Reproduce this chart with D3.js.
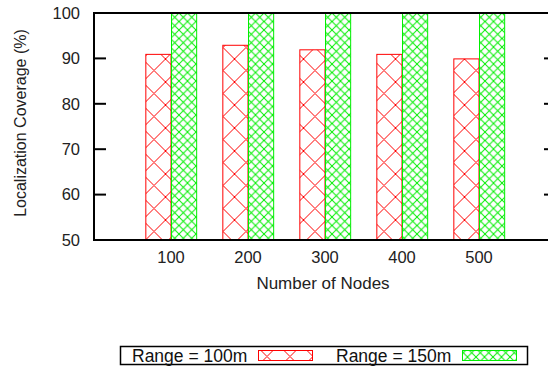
<!DOCTYPE html>
<html>
<head>
<meta charset="utf-8">
<script src="https://cdn.jsdelivr.net/npm/d3@7"></script>
<style>
  body { margin: 0; background: #fff; }
  svg { display: block; font-family: "Liberation Sans", Arial, sans-serif; }
</style>
</head>
<body>
<div id="chart"></div>
<script>
// chart values
const nodes = ["100", "200", "300", "400", "500"];
const range100 = [91, 93, 92, 91, 90];
const range150 = [100, 100, 100, 100, 100];
const seriesNames = ["Range = 100m", "Range = 150m"];
const yTicks = [50, 60, 70, 80, 90, 100];

const W = 548, H = 372;
const margin = { top: 13, right: -8, bottom: 132, left: 94 };
const plotW = W - margin.left - margin.right;
const plotH = H - margin.top - margin.bottom;

const svg = d3.select("#chart").append("svg")
  .attr("width", W).attr("height", H);

// hatch patterns (gnuplot style crosshatch)
const defs = svg.append("defs");
function hatch(id, color, size, ox) {
  const p = defs.append("pattern")
    .attr("id", id)
    .attr("patternUnits", "userSpaceOnUse")
    .attr("x", ox).attr("y", 0)
    .attr("width", size).attr("height", size);
  p.append("rect").attr("width", size).attr("height", size).attr("fill", "#fff");
  p.append("path")
    .attr("d", `M0,0L${size},${size}M${size},0L0,${size}`)
    .attr("stroke", color).attr("stroke-width", 1).attr("fill", "none");
}
hatch("hatch-red", "#ff0000", 23, 140.5);
hatch("hatch-green", "#00ee00", 8.5, 0);

const g = svg.append("g")
  .attr("transform", "translate(" + margin.left + "," + margin.top + ")");

// x in gnuplot histogram units: groups at 0..4, range -1..5
const x = d3.scaleLinear().domain([-1, nodes.length]).range([0, plotW]);
const y = d3.scaleLinear().domain([50, 100]).range([plotH, 0]);
const bw = 1 / 3;

const series = [
  { name: seriesNames[0], values: range100, fill: "url(#hatch-red)", stroke: "#ff0000", off: -bw },
  { name: seriesNames[1], values: range150, fill: "url(#hatch-green)", stroke: "#00ee00", off: 0 }
];

series.forEach(s => {
  g.selectAll(null)
    .data(s.values)
    .enter().append("rect")
    .attr("x", (d, i) => x(i + s.off) + 0.5)
    .attr("y", d => y(d) + 0.5)
    .attr("width", x(bw) - x(0) - 0.5)
    .attr("height", d => y(50) - y(d))
    .attr("fill", s.fill)
    .attr("stroke", s.stroke)
    .attr("stroke-width", 1);
});

// left axis
const yAxisL = g.append("g")
  .call(d3.axisLeft(y).tickValues(yTicks).tickSize(0).tickPadding(14));
yAxisL.select(".domain").remove();
yAxisL.selectAll("text").attr("font-size", 16.5).attr("fill", "#222")
  .attr("font-family", "Liberation Sans, Arial, sans-serif");

// inward ticks both sides
g.selectAll(".ytick-l")
  .data(yTicks.slice(1, -1))
  .enter().append("line")
  .attr("x1", 0).attr("x2", 12)
  .attr("y1", d => y(d)).attr("y2", d => y(d))
  .attr("stroke", "#000").attr("stroke-width", 2);
g.selectAll(".ytick-r")
  .data(yTicks.slice(1, -1))
  .enter().append("line")
  .attr("x1", plotW - 12).attr("x2", plotW)
  .attr("y1", d => y(d)).attr("y2", d => y(d))
  .attr("stroke", "#000").attr("stroke-width", 2);

// x tick labels
g.selectAll(".xlab")
  .data(nodes)
  .enter().append("text")
  .attr("x", (d, i) => x(i))
  .attr("y", plotH + 23)
  .attr("text-anchor", "middle")
  .attr("font-size", 16.5).attr("fill", "#222")
  .text(d => d);

// frame
g.append("rect")
  .attr("x", 0).attr("y", 0)
  .attr("width", plotW).attr("height", plotH)
  .attr("fill", "none").attr("stroke", "#000").attr("stroke-width", 2);

// axis titles
svg.append("text")
  .attr("x", 323).attr("y", 289)
  .attr("text-anchor", "middle")
  .attr("font-size", 17).attr("fill", "#222")
  .text("Number of Nodes");
svg.append("text")
  .attr("transform", "translate(26,123) rotate(-90)")
  .attr("text-anchor", "middle")
  .attr("font-size", 16).attr("fill", "#222")
  .text("Localization Coverage (%)");

// legend
const leg = svg.append("g");
leg.append("rect")
  .attr("x", 120.5).attr("y", 346.5).attr("width", 407).attr("height", 18)
  .attr("fill", "#fff").attr("stroke", "#000").attr("stroke-width", 1.5);
const legX = [132, 336];
series.forEach((s, i) => {
  leg.append("text")
    .attr("x", legX[i]).attr("y", 361.5)
    .attr("font-size", 17.5).attr("fill", "#111")
    .text(s.name);
  leg.append("rect")
    .attr("x", legX[i] + 126.5).attr("y", 350.5).attr("width", 54).attr("height", 10)
    .attr("fill", s.fill).attr("stroke", s.stroke).attr("stroke-width", 1);
});
</script>
</body>
</html>
